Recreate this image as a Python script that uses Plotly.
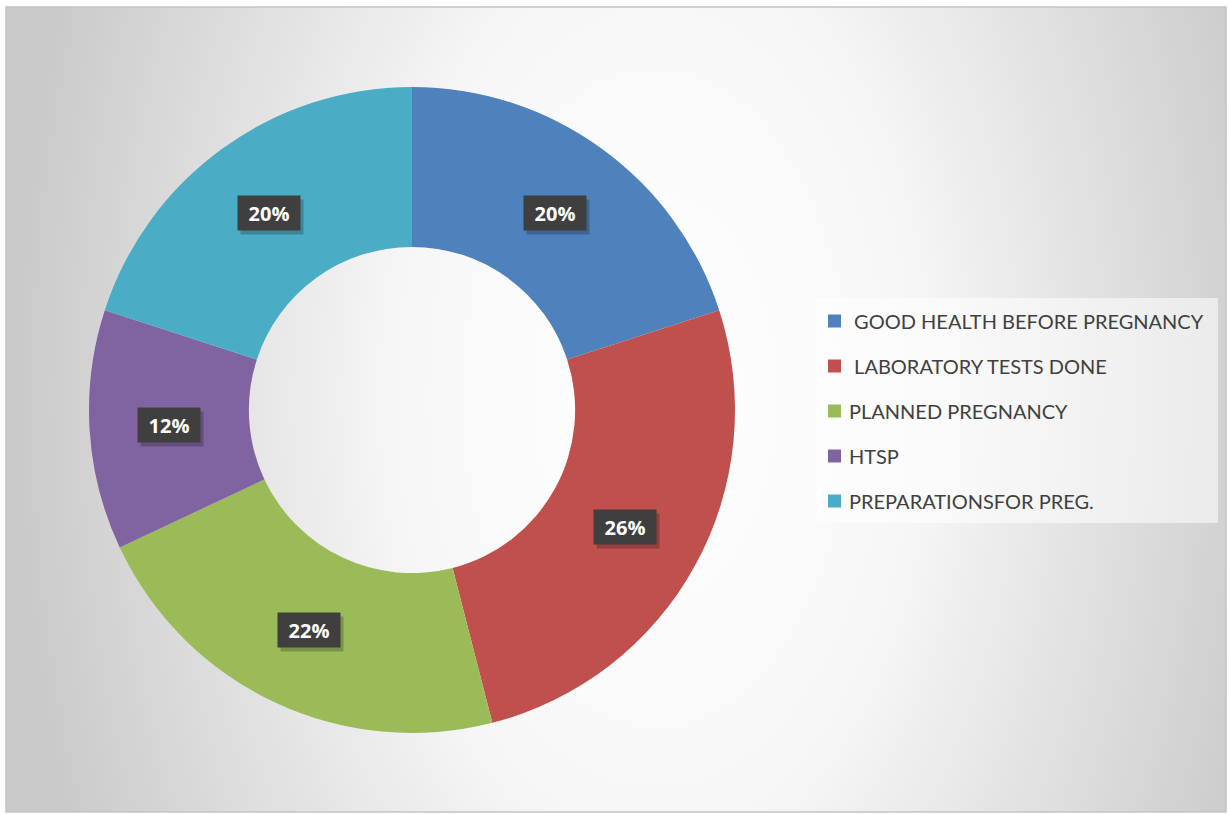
import base64
import math

import plotly.graph_objects as go

labels = ["\u00a0GOOD HEALTH BEFORE PREGNANCY", "\u00a0LABORATORY TESTS DONE",
          "PLANNED PREGNANCY", "HTSP", "PREPARATIONSFOR PREG."]
values = [20, 26, 22, 12, 20]
colors = ["#4F81BD", "#C0504D", "#9BBB59", "#8064A2", "#4BACC6"]

W, H = 1229, 814


def px(x):
    return x / W


def py(y):
    return 1 - y / H


# donut placement (pixels)
cx, cy, r_out = 412, 410, 323
hole = 0.505
r_mid = r_out * (1 + hole) / 2

# background: soft radial gradient like the office chart area
svg = """<svg xmlns='http://www.w3.org/2000/svg' width='1220' height='805' viewBox='0 0 1220 805'>
<defs><radialGradient id='g' gradientUnits='userSpaceOnUse' cx='650' cy='390' r='640'
 gradientTransform='translate(650 390) scale(1 1.7) translate(-650 -390)'>
<stop offset='0' stop-color='#ffffff'/><stop offset='0.4' stop-color='#f7f7f7'/>
<stop offset='0.8' stop-color='#d9d9d9'/><stop offset='1' stop-color='#cacaca'/>
</radialGradient></defs><rect width='1220' height='805' fill='url(#g)'/></svg>"""
bg_src = "data:image/svg+xml;base64," + base64.b64encode(svg.encode()).decode()

fig = go.Figure()
fig.add_trace(go.Pie(
    labels=labels,
    values=values,
    hole=hole,
    sort=False,
    direction="clockwise",
    rotation=0,
    marker=dict(colors=colors, line=dict(width=0)),
    textinfo="none",
    showlegend=False,
    domain=dict(x=[px(cx - r_out), px(cx + r_out)], y=[py(cy + r_out), py(cy - r_out)]),
))

annotations = []
shapes = []

# percentage boxes at the middle of each ring segment
total = sum(values)
cum = 0
for v in values:
    ang = 2 * math.pi * (cum + v / 2) / total
    cum += v
    x = px(cx + r_mid * math.sin(ang))
    y = py(cy - r_mid * math.cos(ang))
    txt = f"{round(100 * v / total)}%"
    box = dict(x=x, y=y, xref="paper", yref="paper", showarrow=False, xanchor="center",
               yanchor="middle", width=52, height=24, borderpad=5)
    # drop shadow
    annotations.append(dict(box, text="\u00a0", xshift=3, yshift=-4, bgcolor="rgba(0,0,0,0.22)",
                            font=dict(size=20)))
    annotations.append(dict(box, text=f"<b>{txt}</b>", bgcolor="#3f3f3f",
                            font=dict(family="Open Sans, sans-serif", color="white", size=20)))

# legend drawn by hand so the row spacing matches
lx0, ly0, lx1, ly1 = 816, 298, 1218, 523
shapes.append(dict(type="rect", xref="paper", yref="paper", x0=px(lx0), x1=px(lx1),
                   y0=py(ly1), y1=py(ly0), fillcolor="rgba(255,255,255,0.55)", line=dict(width=0)))
for i, (lab, col) in enumerate(zip(labels, colors)):
    yc = 321 + 45 * i
    shapes.append(dict(type="rect", xref="paper", yref="paper", x0=px(828), x1=px(841),
                       y0=py(yc + 6.5), y1=py(yc - 6.5), fillcolor=col, line=dict(width=0)))
    annotations.append(dict(x=px(847), y=py(yc), xref="paper", yref="paper", text=lab,
                            showarrow=False, xanchor="left", yanchor="middle",
                            font=dict(family="Lato, sans-serif", size=20, color="#404040")))

# chart-area border
shapes.append(dict(type="rect", xref="paper", yref="paper", x0=px(6), x1=px(1226),
                   y0=py(812), y1=py(7), line=dict(color="#c4c4c4", width=1.5)))

fig.update_layout(
    width=W, height=H,
    margin=dict(l=0, r=0, t=0, b=0),
    paper_bgcolor="white",
    plot_bgcolor="white",
    images=[dict(source=bg_src, xref="paper", yref="paper", x=px(6), y=py(7),
                 sizex=1220 / W, sizey=805 / H, xanchor="left", yanchor="top",
                 sizing="stretch", layer="below")],
    annotations=annotations,
    shapes=shapes,
)

fig.write_html("out.html", config={"displayModeBar": False},
               post_script="document.body.style.margin = '0';")
